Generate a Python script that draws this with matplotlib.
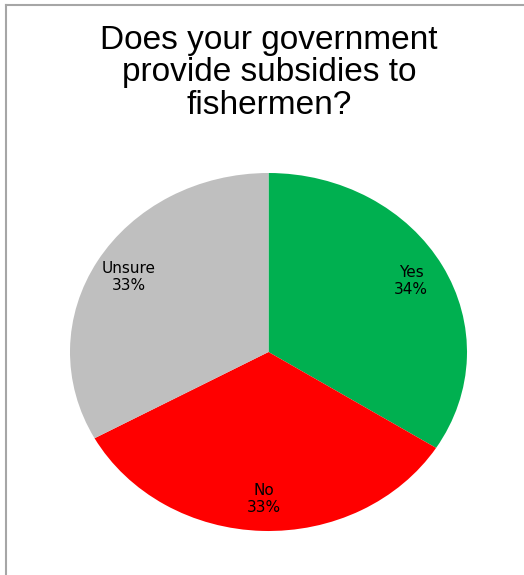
import matplotlib
matplotlib.use("Agg")
import matplotlib.pyplot as plt
from matplotlib.lines import Line2D

title = "Does your government\nprovide subsidies to\nfishermen?"
categories = ["Yes", "No", "Unsure"]
values = [34, 33, 33]
colors = ["#00B050", "#FF0000", "#BFBFBF"]

W, H = 524, 575
fig = plt.figure(figsize=(W / 100, H / 100), dpi=100)

# border (top and left visible)
fig.add_artist(Line2D([6 / W, 6 / W], [0, 1 - 5 / H], transform=fig.transFigure,
                      color="#A6A6A6", lw=1.5))
fig.add_artist(Line2D([6 / W, 1], [1 - 5 / H, 1 - 5 / H], transform=fig.transFigure,
                      color="#A6A6A6", lw=1.5))

fig.text(269 / W, 1 - 73 / H, title, ha="center", va="center",
         fontsize=24, family="Liberation Sans", linespacing=1.05)

ax = fig.add_axes([70 / W, (H - 531) / H, 397 / W, 358 / H])
wedges, texts, autotexts = ax.pie(
    values, colors=colors, startangle=90, counterclock=False,
    autopct="%1.0f%%", pctdistance=0.82, radius=1,
    wedgeprops=dict(linewidth=0),
    textprops=dict(fontsize=11, color="black"))
for t, cat in zip(autotexts, categories):
    t.set_text(f"{cat}\n{t.get_text()}")
    t.set_ha("center")
    t.set_va("center")
ax.set_xlim(-1, 1)
ax.set_ylim(-1, 1)
ax.set_aspect("auto")
ax.axis("off")

fig.savefig("out.png", dpi=100)
